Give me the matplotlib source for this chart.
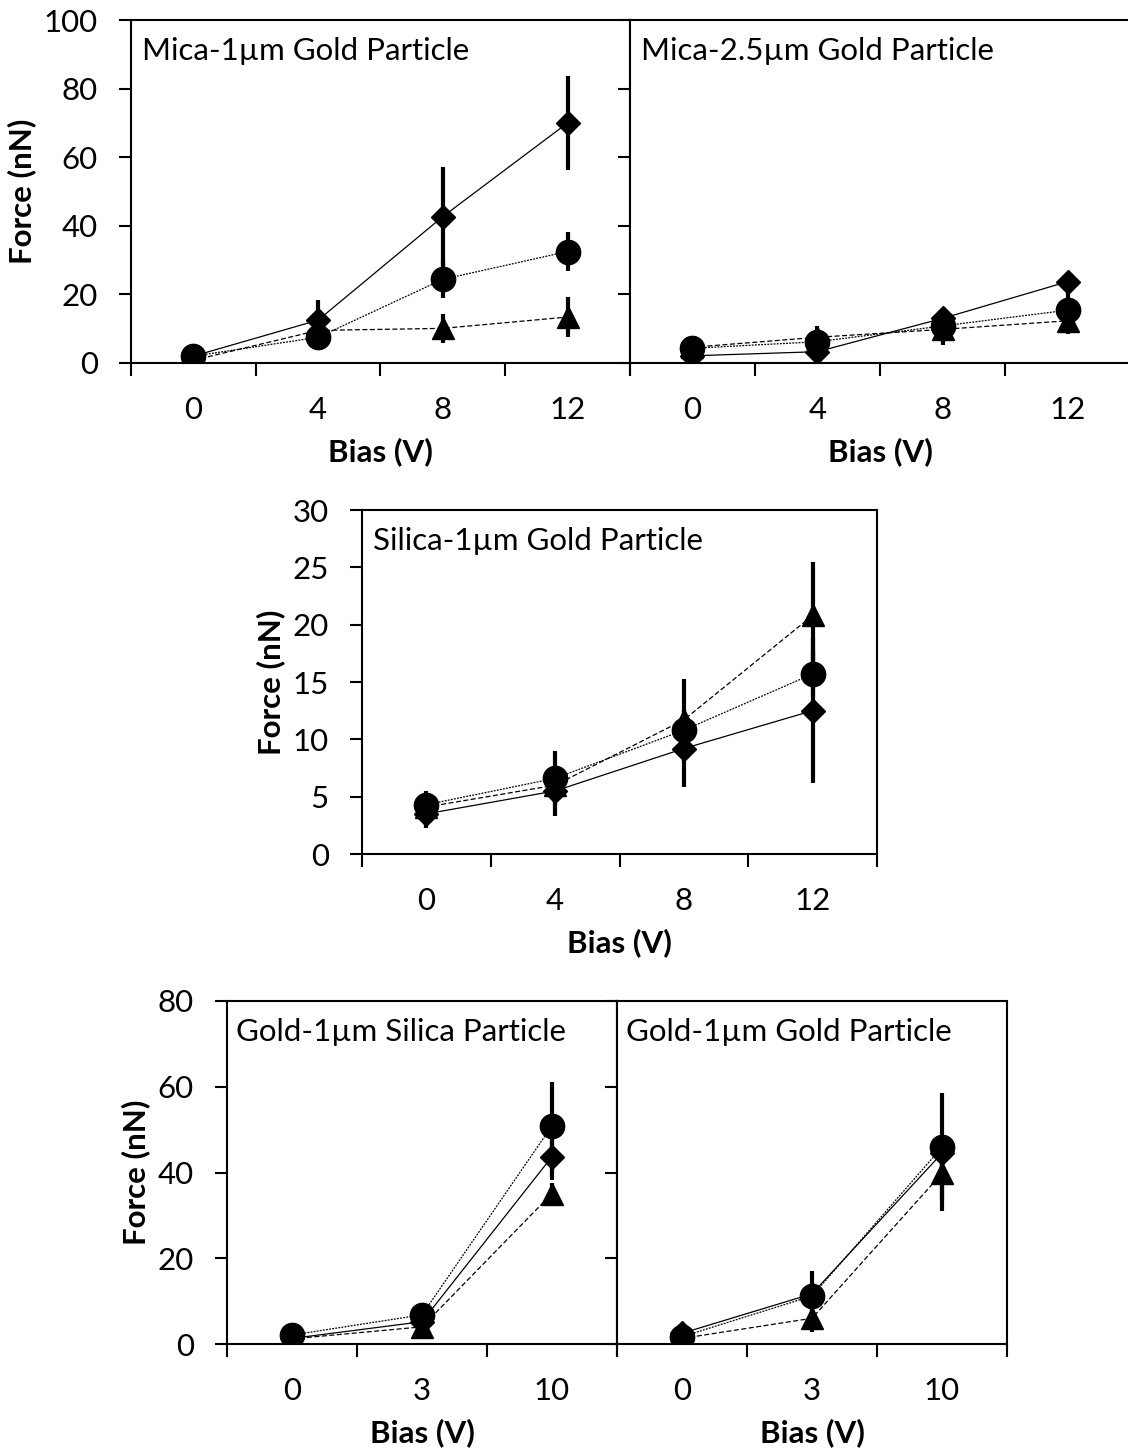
import numpy as np
import matplotlib.pyplot as plt

plt.rcParams['font.family'] = ['Lato', 'DejaVu Sans']

# x categories
bias_a = ['0', '4', '8', '12']
bias_b = ['0', '3', '10']

# Mica - 1um gold particle
mica1_dia = [2.0, 12.5, 42.7, 70.0]
mica1_dia_err = [1.0, 6.0, 14.3, 13.7]
mica1_cir = [2.0, 7.5, 24.4, 32.5]
mica1_cir_err = [1.0, 2.0, 5.5, 5.7]
mica1_tri = [0.8, 9.5, 10.1, 13.4]
mica1_tri_err = [0.5, 2.0, 4.2, 5.8]

# Mica - 2.5um gold particle
mica25_dia = [2.1, 3.3, 13.0, 23.7]
mica25_dia_err = [1.5, 1.5, 2.0, 1.5]
mica25_cir = [4.3, 6.2, 10.8, 15.4]
mica25_cir_err = [2.9, 2.5, 2.0, 5.0]
mica25_tri = [4.6, 7.5, 9.8, 12.3]
mica25_tri_err = [1.5, 3.3, 4.6, 3.7]

# Silica - 1um gold particle
sil_dia = [3.5, 5.5, 9.2, 12.5]
sil_dia_err = [1.2, 2.2, 3.4, 6.3]
sil_cir = [4.3, 6.6, 10.8, 15.7]
sil_cir_err = [1.2, 2.4, 1.5, 2.0]
sil_tri = [4.1, 6.0, 11.7, 20.8]
sil_tri_err = [0.8, 1.5, 3.6, 4.7]

# Gold - 1um silica particle
gsil_dia = [1.3, 5.2, 43.7]
gsil_dia_err = [0.5, 1.0, 5.4]
gsil_cir = [2.1, 6.8, 50.9]
gsil_cir_err = [0.8, 1.2, 10.3]
gsil_tri = [1.2, 4.0, 35.1]
gsil_tri_err = [0.5, 0.8, 2.5]

# Gold - 1um gold particle
ggold_dia = [2.5, 11.7, 44.5]
ggold_dia_err = [0.8, 2.0, 3.0]
ggold_cir = [1.7, 11.2, 45.9]
ggold_cir_err = [0.8, 5.9, 12.6]
ggold_tri = [1.3, 6.0, 39.8]
ggold_tri_err = [0.5, 3.1, 8.8]

FS = 22.5
W, H = 1128, 1451


def px_axes(fig, x0, y0, x1, y1):
    # pixel box -> figure fraction
    return fig.add_axes([x0 / W, (H - y1) / H, (x1 - x0) / W, (y1 - y0) / H])


def draw_panel(ax, cats, dia, dia_err, cir, cir_err, tri, tri_err,
               ymax, ystep, title, ylab=True, xlab=True):
    x = np.arange(len(cats))
    # series: triangle dashed, circle dotted, diamond solid
    ax.errorbar(x, tri, yerr=tri_err, marker='^', ms=16, color='black',
                ecolor='black', elinewidth=3, capsize=0, lw=0.9,
                linestyle=(0, (4, 2)), zorder=3)
    ax.errorbar(x, cir, yerr=cir_err, marker='o', ms=17.5, color='black',
                ecolor='black', elinewidth=3, capsize=0, lw=0.9,
                linestyle=(0, (1.5, 1)), zorder=4)
    ax.errorbar(x, dia, yerr=dia_err, marker='D', ms=12, color='black',
                ecolor='black', elinewidth=3, capsize=0, lw=0.9,
                linestyle='-', zorder=5)

    ax.set_xlim(-0.5, len(cats) - 0.5)
    ax.set_ylim(0, ymax)
    ax.set_yticks(np.arange(0, ymax + 0.1, ystep))
    ax.set_xticks(np.arange(len(cats) + 1) - 0.5)
    ax.set_xticklabels([])
    ax.set_xticks(x, minor=True)
    ax.set_xticklabels(cats, minor=True)
    ax.tick_params(axis='x', which='major', direction='out', length=9,
                   width=1.5)
    ax.tick_params(axis='x', which='minor', length=0, pad=24, labelsize=FS)
    ax.tick_params(axis='y', direction='out', length=9, width=1.5,
                   pad=15, labelsize=FS, labelleft=ylab)
    for s in ax.spines.values():
        s.set_linewidth(1.5)
    ax.text(0.022, 0.95, title, transform=ax.transAxes, ha='left',
            va='top', fontsize=FS)
    if ylab:
        ax.set_ylabel('Force (nN)', fontsize=FS, fontweight='bold',
                      labelpad=5)
    if xlab:
        ax.set_xlabel('Bias (V)', fontsize=FS, fontweight='bold',
                      labelpad=9)


fig = plt.figure(figsize=(W / 100, H / 100), dpi=100)

ax1 = px_axes(fig, 131, 20, 630, 363)
draw_panel(ax1, bias_a, mica1_dia, mica1_dia_err, mica1_cir, mica1_cir_err,
           mica1_tri, mica1_tri_err, 100, 20, 'Mica-1\u00b5m Gold Particle')

ax2 = px_axes(fig, 630, 20, 1130, 363)
draw_panel(ax2, bias_a, mica25_dia, mica25_dia_err, mica25_cir,
           mica25_cir_err, mica25_tri, mica25_tri_err, 100, 20,
           'Mica-2.5\u00b5m Gold Particle', ylab=False)

ax3 = px_axes(fig, 362, 510, 877, 854)
draw_panel(ax3, bias_a, sil_dia, sil_dia_err, sil_cir, sil_cir_err,
           sil_tri, sil_tri_err, 30, 5, 'Silica-1\u00b5m Gold Particle')

ax4 = px_axes(fig, 227, 1001, 617, 1344)
draw_panel(ax4, bias_b, gsil_dia, gsil_dia_err, gsil_cir, gsil_cir_err,
           gsil_tri, gsil_tri_err, 80, 20, 'Gold-1\u00b5m Silica Particle')

ax5 = px_axes(fig, 617, 1001, 1007, 1344)
draw_panel(ax5, bias_b, ggold_dia, ggold_dia_err, ggold_cir, ggold_cir_err,
           ggold_tri, ggold_tri_err, 80, 20, 'Gold-1\u00b5m Gold Particle',
           ylab=False)

fig.savefig('out.png', dpi=100)
